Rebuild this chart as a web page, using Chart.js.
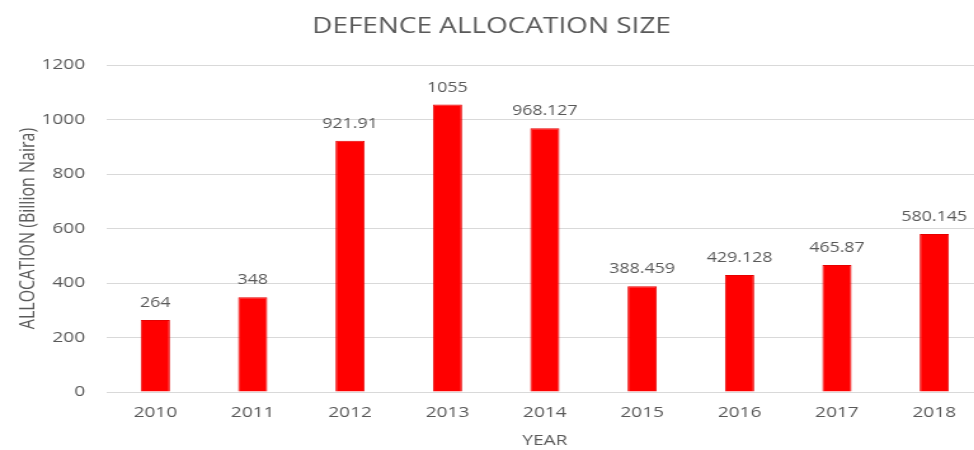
<!DOCTYPE html>
<html>
<head>
<meta charset="utf-8">
<script src="https://cdn.jsdelivr.net/npm/chart.js@4/dist/chart.umd.min.js"></script>
<style>
  html, body { margin: 0; padding: 0; background: #fff; overflow: hidden; }
  /* chart is laid out narrow and widened sideways, giving the broad lettering */
  #wrap {
    width: 777px;
    height: 450px;
    transform: scaleX(1.27);
    transform-origin: 0 0;
  }
</style>
</head>
<body>
<div id="wrap"><canvas id="myChart"></canvas></div>
<script>
const years = ["2010", "2011", "2012", "2013", "2014", "2015", "2016", "2017", "2018"];
const allocation = [264, 348, 921.91, 1055, 968.127, 388.459, 429.128, 465.87, 580.145];
const yTicks = [0, 200, 400, 600, 800, 1000, 1200];

const textGrey = "#595959";
const fontFamily = "'Open Sans', sans-serif";

// value printed above each bar
const barLabels = {
  id: "barLabels",
  afterDatasetsDraw(chart) {
    const ctx = chart.ctx;
    const meta = chart.getDatasetMeta(0);
    ctx.save();
    ctx.font = "14px " + fontFamily;
    ctx.fillStyle = textGrey;
    ctx.textAlign = "center";
    ctx.textBaseline = "alphabetic";
    meta.data.forEach((bar, i) => {
      ctx.fillText(String(allocation[i]), bar.x, bar.y - 13);
    });
    ctx.restore();
  }
};

const ctx = document.getElementById("myChart").getContext("2d");
new Chart(ctx, {
  type: "bar",
  data: {
    labels: years,
    datasets: [{
      label: "Allocation",
      data: allocation,
      backgroundColor: "#ff0000",
      borderColor: "#e60000",
      borderWidth: 1,
      barPercentage: 0.3,
      categoryPercentage: 1.0
    }]
  },
  options: {
    responsive: true,
    maintainAspectRatio: false,
    animation: false,
    layout: { padding: { top: 14, right: 3, left: 0, bottom: 0 } },
    plugins: {
      legend: { display: false },
      tooltip: { enabled: false },
      title: {
        display: true,
        text: "DEFENCE ALLOCATION SIZE",
        color: textGrey,
        font: { family: fontFamily, size: 22, weight: "normal" },
        padding: { top: 0, bottom: 24.6 }
      }
    },
    scales: {
      x: {
        grid: { display: false, drawTicks: false },
        border: { display: true, color: "#d9d9d9" },
        ticks: { color: textGrey, font: { family: fontFamily, size: 15 }, padding: 12 },
        title: {
          display: true,
          text: "YEAR",
          color: textGrey,
          font: { family: fontFamily, size: 15 },
          padding: { top: -2, bottom: 0 }
        }
      },
      y: {
        min: 0,
        max: 1200,
        afterBuildTicks(scale) {
          scale.ticks = yTicks.map(v => ({ value: v }));
        },
        afterFit(scale) {
          scale.width = 84;
        },
        grid: { color: "#d9d9d9", drawTicks: false },
        border: { display: false },
        ticks: {
          color: textGrey,
          font: { family: fontFamily, size: 15 },
          padding: 17,
          callback: (v) => String(v)
        },
        title: {
          display: true,
          text: "ALLOCATION (Billion Naira)",
          color: textGrey,
          font: { family: fontFamily, size: 16 },
          padding: { top: 12.4, bottom: 0 }
        }
      }
    }
  },
  plugins: [barLabels]
});
</script>
</body>
</html>
